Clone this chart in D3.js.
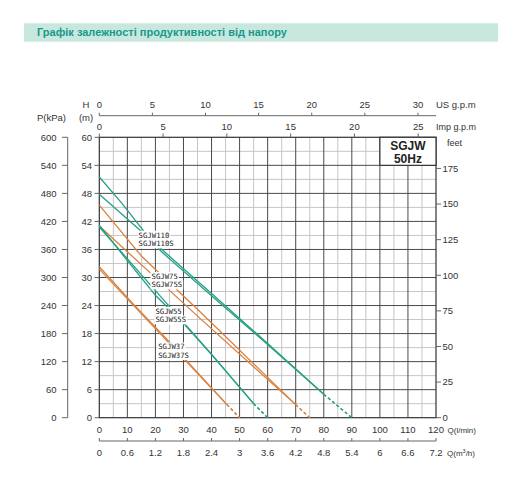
<!DOCTYPE html>
<html><head><meta charset="utf-8">
<script src="https://cdn.jsdelivr.net/npm/d3@7"></script>
<style>body{margin:0;background:#fff}svg{display:block;font-family:"Liberation Sans",Arial,sans-serif}</style>
</head><body><svg id="c" width="512" height="492"></svg>
<script>
// ---- data ----
const chartTitle = "Графік залежності продуктивності від напору";
const flowTicks = [0,10,20,30,40,50,60,70,80,90,100,110,120];
const m3hTicks = ["0","0.6","1.2","1.8","2.4","3","3.6","4.2","4.8","5.4","6","6.6","7.2"];
const headTicks = [0,6,12,18,24,30,36,42,48,54,60];
const kpaTicks = [0,60,120,180,240,300,360,420,480,540,600];
const feetTicks = [0,25,50,75,100,125,150,175];
const usgpmTicks = [0,5,10,15,20,25,30];
const impgpmTicks = [0,5,10,15,20,25];

// pump curves: Q (l/min), H (m); last segment is the dashed run-out to H = 0
const sgjw110Q  = [0,20,40,60,80,90];
const sgjw110H  = [47.8,37.2,26.6,15.9,5.0,0];
const sgjw110sQ = [0,8,16,22,40,62,80,90];
const sgjw110sH = [51.5,45.9,39.8,35.6,26.1,14.6,5.0,0];
const sgjw75Q   = [0,36,70,75];
const sgjw75H   = [41.0,21.2,2.8,0];
const sgjw75sQ  = [0,15,36,70,75];
const sgjw75sH  = [45.5,34.6,22.6,2.8,0];
const sgjw55Q   = [0,20,40,55,60];
const sgjw55H   = [40.8,27.2,13.6,3.0,0];
const sgjw55sQ  = [0,10,20,30,40,55,60];
const sgjw55sH  = [41.2,33.6,26.2,20.2,13.5,3.0,0];
const sgjw37Q   = [0,45.5,50];
const sgjw37H   = [31.8,2.8,0];
const sgjw37sQ  = [0,12,25,45.5,50];
const sgjw37sH  = [32.3,24.4,16.2,2.8,0];

const modelNames = ["SGJW110","SGJW110S","SGJW75","SGJW75S","SGJW55","SGJW55S","SGJW37","SGJW37S"];
// label anchors (Q, H) for each pair of model names
const labelPairs = [["SGJW110","SGJW110S"],["SGJW75","SGJW75S"],["SGJW55","SGJW55S"],["SGJW37","SGJW37S"]];
const labelQ = [14.0,18.6,20.0,21.0];
const labelH = [38.5,29.7,22.2,14.6];

// ---- drawing ----
const GREEN = "#26a086", ORANGE = "#d9823f";
const svg = d3.select("#c");
svg.append("rect").attr("width",512).attr("height",492).attr("fill","#fff");

const x = d3.scaleLinear().domain([0,120]).range([99.3,436]);
const y = d3.scaleLinear().domain([0,60]).range([417.7,137.3]);
const yP = d3.scaleLinear().domain([0,600]).range(y.range());
const yFt = d3.scaleLinear().domain([0,60/0.3048]).range(y.range());
const xUS = d3.scaleLinear().domain([0,120/3.785411784]).range(x.range());
const xImp = d3.scaleLinear().domain([0,120/4.54609]).range(x.range());
const xM3 = d3.scaleLinear().domain([0,7.2]).range(x.range());

// title band
svg.append("rect").attr("x",24).attr("y",23.3).attr("width",474).attr("height",18.4).attr("fill","#c8e8df");
svg.append("text").attr("x",37).attr("y",36.3).attr("font-size",11).attr("font-weight","bold")
  .attr("fill","#17998a").text(chartTitle);

// grid
const g = svg.append("g");
const minorQ = d3.range(5,120,10), majorQ = d3.range(10,120,10);
const minorH = d3.range(3,60,6), majorH = d3.range(6,60,6);
g.selectAll(".vq").data(minorQ).join("line").attr("x1",d=>x(d)).attr("x2",d=>x(d))
  .attr("y1",y(0)).attr("y2",y(60)).attr("stroke","#c6c6c6").attr("stroke-width",1);
g.selectAll(".hq").data(minorH).join("line").attr("y1",d=>y(d)).attr("y2",d=>y(d))
  .attr("x1",x(0)).attr("x2",x(120)).attr("stroke","#c6c6c6").attr("stroke-width",1);
g.selectAll(".vM").data(majorQ).join("line").attr("x1",d=>x(d)).attr("x2",d=>x(d))
  .attr("y1",y(0)).attr("y2",y(60)).attr("stroke","#4a4a4a").attr("stroke-width",1);
g.selectAll(".hM").data(majorH).join("line").attr("y1",d=>y(d)).attr("y2",d=>y(d))
  .attr("x1",x(0)).attr("x2",x(120)).attr("stroke","#4a4a4a").attr("stroke-width",1);
g.append("rect").attr("x",x(0)).attr("y",y(60)).attr("width",x(120)-x(0)).attr("height",y(0)-y(60))
  .attr("fill","none").attr("stroke","#333").attr("stroke-width",1.2);

// curves
const curves = [
  [sgjw110Q,sgjw110H,GREEN],[sgjw110sQ,sgjw110sH,GREEN],
  [sgjw75Q,sgjw75H,ORANGE],[sgjw75sQ,sgjw75sH,ORANGE],
  [sgjw55Q,sgjw55H,GREEN],[sgjw55sQ,sgjw55sH,GREEN],
  [sgjw37Q,sgjw37H,ORANGE],[sgjw37sQ,sgjw37sH,ORANGE]
];
const line = d3.line().x(d=>x(d[0])).y(d=>y(d[1]));
const cg = svg.append("g").attr("fill","none").attr("stroke-width",1.3);
curves.forEach(([qs,hs,col])=>{
  const pts = qs.map((q,i)=>[q,hs[i]]);
  cg.append("path").attr("d",line(pts.slice(0,-1))).attr("stroke",col);
  cg.append("path").attr("d",line(pts.slice(-2))).attr("stroke",col).attr("stroke-dasharray","3,2.5");
});

// curve labels
const lg = svg.append("g").attr("font-family","'DejaVu Sans Mono','Liberation Mono',monospace")
  .attr("font-size",7.3).attr("fill","#222");
labelPairs.forEach((pair,i)=>{
  pair.forEach((name,j)=>{
    const t = lg.append("text").attr("x",x(labelQ[i])).attr("y",y(labelH[i])+j*8.5).text(name);
    const b = t.node().getBBox();
    lg.insert("rect","text").attr("x",b.x-1).attr("y",b.y).attr("width",b.width+2).attr("height",b.height)
      .attr("fill","#fff");
  });
});

// SGJW 50Hz box
svg.append("rect").attr("x",x(100)).attr("y",y(60)).attr("width",x(120)-x(100)).attr("height",y(54)-y(60))
  .attr("fill","#fff").attr("stroke","#333").attr("stroke-width",1.2);
svg.append("text").attr("x",x(110)).attr("y",150).attr("text-anchor","middle").attr("font-size",12)
  .attr("font-weight","bold").attr("fill","#222").text("SGJW");
svg.append("text").attr("x",x(110)).attr("y",162.7).attr("text-anchor","middle").attr("font-size",12)
  .attr("font-weight","bold").attr("fill","#222").text("50Hz");

const TXT = "#333", TICK = "#666";
// H axis (left of frame)
const ha = svg.append("g").attr("font-size",9.5).attr("fill",TXT);
headTicks.forEach(v=>{
  ha.append("line").attr("x1",94.5).attr("x2",x(0)).attr("y1",y(v)).attr("y2",y(v)).attr("stroke",TICK);
  ha.append("text").attr("x",92).attr("y",y(v)).attr("dy","0.35em").attr("text-anchor","end").text(v);
});
ha.append("text").attr("x",86).attr("y",108.3).attr("text-anchor","middle").text("H");
ha.append("text").attr("x",86).attr("y",121).attr("text-anchor","middle").text("(m)");

// P axis
const pa = svg.append("g").attr("font-size",9.5).attr("fill",TXT);
pa.append("line").attr("x1",67.7).attr("x2",67.7).attr("y1",yP(0)).attr("y2",yP(600)).attr("stroke",TICK);
kpaTicks.forEach(v=>{
  pa.append("line").attr("x1",62).attr("x2",67.7).attr("y1",yP(v)).attr("y2",yP(v)).attr("stroke",TICK);
  pa.append("text").attr("x",56.5).attr("y",yP(v)).attr("dy","0.35em").attr("text-anchor","end").text(v);
});
pa.append("text").attr("x",37).attr("y",121).text("P(kPa)");

// feet axis (right)
const fa = svg.append("g").attr("font-size",9.5).attr("fill",TXT);
feetTicks.forEach(v=>{
  fa.append("line").attr("x1",x(120)).attr("x2",441).attr("y1",yFt(v)).attr("y2",yFt(v)).attr("stroke",TICK);
  fa.append("text").attr("x",442.5).attr("y",yFt(v)).attr("dy","0.35em").text(v);
});
fa.append("text").attr("x",447).attr("y",146).attr("font-size",9).text("feet");

// US g.p.m (top)
const ua = svg.append("g").attr("font-size",9.5).attr("fill",TXT);
ua.append("line").attr("x1",x(0)).attr("x2",x(120)).attr("y1",115.7).attr("y2",115.7).attr("stroke",TICK);
usgpmTicks.forEach(v=>{
  ua.append("line").attr("x1",xUS(v)).attr("x2",xUS(v)).attr("y1",112.7).attr("y2",115.7).attr("stroke",TICK);
  ua.append("text").attr("x",xUS(v)).attr("y",108.3).attr("text-anchor","middle").text(v);
});
ua.append("text").attr("x",436).attr("y",108.3).text("US g.p.m");

// Imp g.p.m
const ia = svg.append("g").attr("font-size",9.5).attr("fill",TXT);
impgpmTicks.forEach(v=>{
  ia.append("line").attr("x1",xImp(v)).attr("x2",xImp(v)).attr("y1",133.5).attr("y2",y(60)).attr("stroke",TICK);
  ia.append("text").attr("x",xImp(v)).attr("y",130).attr("text-anchor","middle").text(v);
});
ia.append("text").attr("x",436).attr("y",130).attr("font-size",9).text("Imp g.p.m");

// Q l/min (bottom)
const qa = svg.append("g").attr("font-size",9.5).attr("fill",TXT);
flowTicks.forEach(v=>{
  qa.append("text").attr("x",x(v)).attr("y",432.5).attr("text-anchor","middle").text(v);
});
qa.append("text").attr("x",447.5).attr("y",432.5).attr("font-size",8).text("Q(l/min)");

// Q m3/h
const ma = svg.append("g").attr("font-size",9.5).attr("fill",TXT);
ma.append("line").attr("x1",x(0)).attr("x2",x(120)).attr("y1",441).attr("y2",441).attr("stroke",TICK);
m3hTicks.forEach(v=>{
  ma.append("line").attr("x1",xM3(+v)).attr("x2",xM3(+v)).attr("y1",438).attr("y2",441).attr("stroke",TICK);
  ma.append("text").attr("x",xM3(+v)).attr("y",455.5).attr("text-anchor","middle").text(v);
});
const qm = ma.append("text").attr("x",447).attr("y",455.5).attr("font-size",8);
qm.append("tspan").text("Q(m");
qm.append("tspan").attr("font-size",5.5).attr("dy",-3).text("3");
qm.append("tspan").attr("dy",3).text("/h)");
</script></body></html>
